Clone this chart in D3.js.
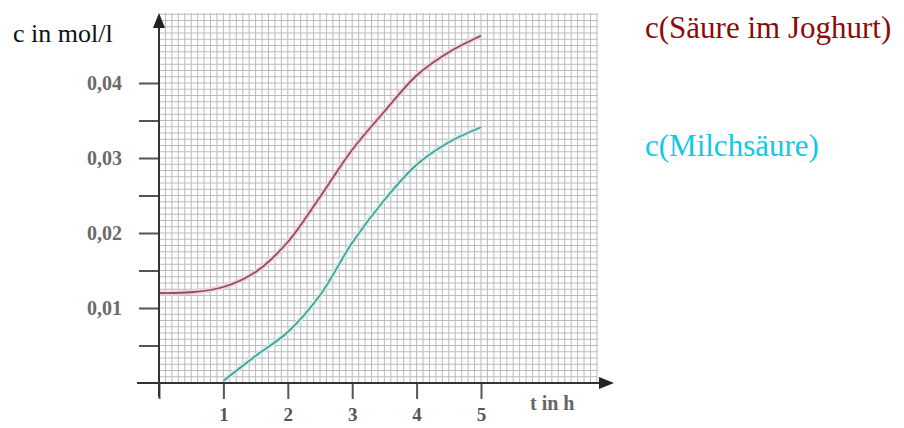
<!DOCTYPE html>
<html>
<head>
<meta charset="utf-8">
<script src="https://cdn.jsdelivr.net/npm/d3@7"></script>
<style>
  html, body { margin: 0; padding: 0; background: #fff; }
  svg { display: block; }
  text { font-family: "Liberation Serif", "Times New Roman", serif; }
</style>
</head>
<body>
<div id="chart"></div>
<script>
// values
const times = [0, 0.5, 1, 1.5, 2, 2.5, 3, 3.5, 4, 4.5, 5];
const saeureJoghurt = [0.0120, 0.0121, 0.0128, 0.0148, 0.0188, 0.0248, 0.0311, 0.0362, 0.0410, 0.0441, 0.0463];
const milchTimes = [1, 1.5, 2, 2.5, 3, 3.5, 4, 4.5, 5];
const milchsaeure = [0.0003, 0.0036, 0.0068, 0.0117, 0.0187, 0.0244, 0.0291, 0.0321, 0.0341];

const xTicks = [0, 1, 2, 3, 4, 5];
const yTicks = [0.005, 0.01, 0.015, 0.02, 0.025, 0.03, 0.035, 0.04];
const yLabeled = [0.01, 0.02, 0.03, 0.04];

const legend = [
  { text: 'c(Säure im Joghurt)', color: '#8b0a0a', y: 38 },
  { text: 'c(Milchsäure)', color: '#12c8e6', y: 156 }
];

const W = 904, H = 428;

const svg = d3.select('#chart').append('svg')
  .attr('width', W)
  .attr('height', H);

const x = d3.scaleLinear().domain([0, 5]).range([159, 481]);
const y = d3.scaleLinear().domain([0, 0.04]).range([383, 83]);

const xMax = x.invert(598);
const yMax = y.invert(13);

const deFmt = d3.formatLocale({ decimal: ',', thousands: '.', grouping: [3], currency: ['', '€'] }).format('.2f');

// millimetre-paper grid
const grid = svg.append('g').attr('class', 'grid')
  .attr('stroke', '#8f8f8f')
  .attr('stroke-width', 1)
  .attr('opacity', 0.6);

grid.selectAll('line.v')
  .data(d3.range(1, Math.floor(xMax * 10) + 1).map(i => i / 10))
  .enter().append('line')
  .attr('class', 'v')
  .attr('x1', d => x(d)).attr('x2', d => x(d))
  .attr('y1', y(0)).attr('y2', y(yMax));

grid.selectAll('line.h')
  .data(d3.range(1, Math.floor(yMax * 1200) + 1).map(i => i / 1200))
  .enter().append('line')
  .attr('class', 'h')
  .attr('x1', x(0)).attr('x2', x(xMax))
  .attr('y1', d => y(d)).attr('y2', d => y(d));

// curves
const line = d3.line()
  .x(d => x(d[0]))
  .y(d => y(d[1]))
  .curve(d3.curveCatmullRom.alpha(0.5));

const series = [
  { pts: times.map((t, i) => [t, saeureJoghurt[i]]), halo: '#f4d2da', stroke: '#8a5062' },
  { pts: milchTimes.map((t, i) => [t, milchsaeure[i]]), halo: '#cdf2ec', stroke: '#559c98' }
];

series.forEach(s => {
  svg.append('path')
    .datum(s.pts)
    .attr('fill', 'none')
    .attr('stroke', s.halo)
    .attr('stroke-width', 5)
    .attr('d', line);
  svg.append('path')
    .datum(s.pts)
    .attr('fill', 'none')
    .attr('stroke', s.stroke)
    .attr('stroke-width', 1.8)
    .attr('d', line);
});

// y axis
const yAxis = svg.append('g')
  .attr('transform', `translate(${x(0)},0)`)
  .call(d3.axisLeft(y)
    .tickValues(yTicks)
    .tickSize(20)
    .tickPadding(17)
    .tickFormat(d => yLabeled.some(v => Math.abs(v - d) < 1e-9) ? deFmt(d) : ''));
yAxis.select('.domain').remove();
yAxis.selectAll('.tick line').attr('stroke', '#555').attr('stroke-width', 2);
yAxis.selectAll('.tick text')
  .attr('fill', '#6a6a6a')
  .style('font-weight', 'bold')
  .style('font-size', '20px');

// x axis
const xAxis = svg.append('g')
  .attr('transform', `translate(0,${y(0)})`)
  .call(d3.axisBottom(x)
    .tickValues(xTicks)
    .tickSize(16)
    .tickPadding(9)
    .tickFormat(d => d === 0 ? '' : d));
xAxis.select('.domain').remove();
xAxis.selectAll('.tick line').attr('stroke', '#555').attr('stroke-width', 2);
xAxis.selectAll('.tick text')
  .attr('fill', '#555')
  .style('font-weight', 'bold')
  .style('font-size', '19px');

// axis lines with arrows
svg.append('line')
  .attr('x1', x(0)).attr('x2', x(0))
  .attr('y1', y(0) + 14).attr('y2', 22)
  .attr('stroke', '#333').attr('stroke-width', 2);
svg.append('path')
  .attr('d', `M${x(0)},13 L${x(0) - 6},28 L${x(0) + 6},28 Z`)
  .attr('fill', '#222');

svg.append('line')
  .attr('x1', 137).attr('x2', 604)
  .attr('y1', y(0)).attr('y2', y(0))
  .attr('stroke', '#333').attr('stroke-width', 2);
svg.append('path')
  .attr('d', `M614,${y(0)} L599,${y(0) - 6} L599,${y(0) + 6} Z`)
  .attr('fill', '#222');

// axis titles
svg.append('text')
  .attr('x', 13).attr('y', 42)
  .style('font-size', '26px')
  .attr('fill', '#111')
  .text('c in mol/l');

svg.append('text')
  .attr('x', 530).attr('y', 410)
  .style('font-weight', 'bold')
  .style('font-size', '20px')
  .attr('fill', '#666')
  .text('t in h');

// legend
svg.selectAll('text.legend')
  .data(legend)
  .enter().append('text')
  .attr('class', 'legend')
  .attr('x', 645)
  .attr('y', d => d.y)
  .attr('fill', d => d.color)
  .style('font-size', '31px')
  .text(d => d.text);
</script>
</body>
</html>
